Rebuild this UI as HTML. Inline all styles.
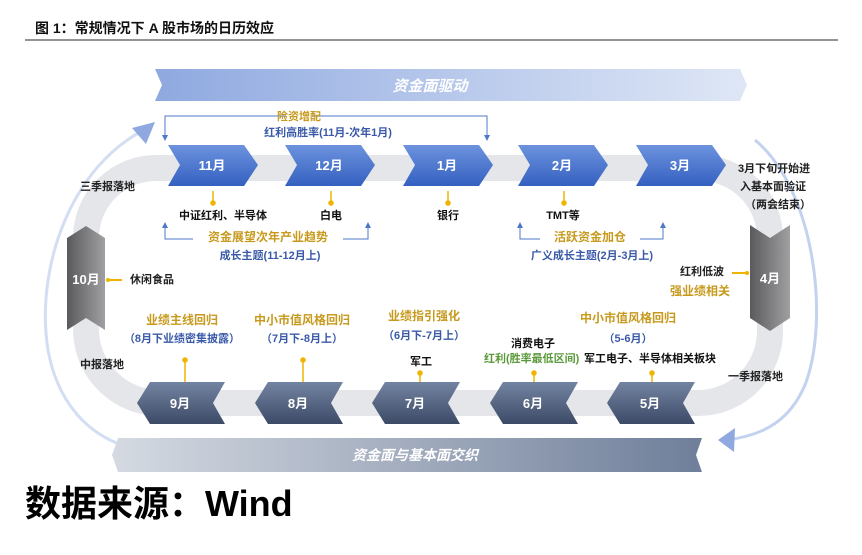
<!DOCTYPE html>
<html><head><meta charset="utf-8">
<style>
html,body{margin:0;padding:0;background:#fff;}
body{width:862px;height:550px;overflow:hidden;position:relative;font-family:"Liberation Sans","Noto Sans CJK SC",sans-serif;}
svg text{font-family:"Liberation Sans","Noto Sans CJK SC",sans-serif;}
</style></head><body>
<svg width="862" height="550" viewBox="0 0 862 550" xmlns="http://www.w3.org/2000/svg">
<defs>
<linearGradient id="top" x1="0" x2="1" y1="0" y2="0"><stop offset="0" stop-color="#8fa9e0"/><stop offset="1" stop-color="#dfe7f6"/></linearGradient>
<linearGradient id="bot" x1="0" x2="1" y1="0" y2="0"><stop offset="0" stop-color="#d5dae2"/><stop offset="1" stop-color="#6f7f9a"/></linearGradient>
<linearGradient id="blu" x1="0" x2="0" y1="0" y2="1"><stop offset="0" stop-color="#6d93de"/><stop offset="1" stop-color="#3460c0"/></linearGradient>
<linearGradient id="sl" x1="0" x2="0" y1="0" y2="1"><stop offset="0" stop-color="#7384a2"/><stop offset="1" stop-color="#3c4a66"/></linearGradient>
<linearGradient id="gr" x1="0" x2="1" y1="0" y2="0"><stop offset="0" stop-color="#5a5a5c"/><stop offset="1" stop-color="#a09fa2"/></linearGradient>
</defs>
<text x="35" y="33" font-size="14" font-weight="bold" fill="#111">图 1：常规情况下 A 股市场的日历效应</text>
<line x1="25" y1="40" x2="838" y2="40" stroke="#555" stroke-width="1.2"/>

<path d="M148 128 C70 165,35 270,48 350 C58 405,90 435,125 446" fill="none" stroke="#d3def3" stroke-width="3"/>
<polygon points="155,122 132,128 146,144" fill="#8fa9e0"/>
<path d="M755 140 C815 190,830 320,805 385 C790 420,765 435,727 440" fill="none" stroke="#c3d2ef" stroke-width="3"/>
<polygon points="718,440 735,428 734,452" fill="#8fa9e0"/>

<path d="M180 168 H700 A70 70 0 0 1 770 238 V330 A72 72 0 0 1 698 403 H160 A74 74 0 0 1 86 329 V238 A70 70 0 0 1 156 168 Z" fill="none" stroke="#e4e6ea" stroke-width="26"/>

<polygon points="155,69 740,69 747,85 740,101 155,101 162,85" fill="url(#top)"/>
<text x="430" y="91" font-size="15" font-style="italic" font-weight="bold" fill="#fff" text-anchor="middle">资金面驱动</text>

<path d="M165 137 V116 H286 M312 116 H487 V137" fill="none" stroke="#4f78c8" stroke-width="1"/>
<polygon points="162,135 168,135 165,141" fill="#4f78c8"/><polygon points="484,135 490,135 487,141" fill="#4f78c8"/>
<text x="299" y="120" font-size="11" font-weight="bold" fill="#c79a1e" text-anchor="middle">险资增配</text>
<text x="328" y="136" font-size="11" font-weight="bold" fill="#3a5aa8" text-anchor="middle">红利高胜率(11月-次年1月)</text>

<g fill="url(#blu)">
<polygon points="168,145 244,145 258,165 244,186 168,186 180,165"/>
<polygon points="285,145 361,145 375,165 361,186 285,186 297,165"/>
<polygon points="403,145 479,145 493,165 479,186 403,186 415,165"/>
<polygon points="518,145 594,145 608,165 594,186 518,186 530,165"/>
<polygon points="636,145 712,145 726,165 712,186 636,186 648,165"/>
</g>
<g font-size="13" font-weight="bold" fill="#fff" text-anchor="middle">
<text x="212" y="170">11月</text><text x="329" y="170">12月</text><text x="447" y="170">1月</text><text x="562" y="170">2月</text><text x="680" y="170">3月</text>
</g>
<g stroke="#f0b400" stroke-width="1.5" fill="#f0b400">
<line x1="213" y1="191" x2="213" y2="201"/><circle cx="213" cy="203" r="2"/>
<line x1="331" y1="191" x2="331" y2="201"/><circle cx="331" cy="203" r="2"/>
<line x1="448" y1="191" x2="448" y2="201"/><circle cx="448" cy="203" r="2"/>
<line x1="564" y1="191" x2="564" y2="201"/><circle cx="564" cy="203" r="2"/>
</g>
<g font-size="11" font-weight="bold" fill="#111" text-anchor="middle">
<text x="223" y="219">中证红利、半导体</text><text x="331" y="219">白电</text><text x="448" y="219">银行</text><text x="563" y="219">TMT等</text>
</g>
<path d="M165 226 V239 H193 M343 239 H368 V226" fill="none" stroke="#4f78c8" stroke-width="1"/>
<polygon points="162,228 168,228 165,222" fill="#4f78c8"/><polygon points="365,228 371,228 368,222" fill="#4f78c8"/>
<text x="268" y="241" font-size="12" font-weight="bold" fill="#c79a1e" text-anchor="middle">资金展望次年产业趋势</text>
<text x="270" y="259" font-size="11" font-weight="bold" fill="#3a5aa8" text-anchor="middle">成长主题(11-12月上)</text>
<path d="M520 226 V239 H540 M640 239 H663 V226" fill="none" stroke="#4f78c8" stroke-width="1"/>
<polygon points="517,228 523,228 520,222" fill="#4f78c8"/><polygon points="660,228 666,228 663,222" fill="#4f78c8"/>
<text x="590" y="241" font-size="12" font-weight="bold" fill="#c79a1e" text-anchor="middle">活跃资金加仓</text>
<text x="592" y="259" font-size="11" font-weight="bold" fill="#3a5aa8" text-anchor="middle">广义成长主题(2月-3月上)</text>

<g font-size="11" font-weight="bold" fill="#222">
<text x="738" y="172">3月下旬开始进</text><text x="740" y="190">入基本面验证</text><text x="745" y="208">（两会结束）</text>
<text x="80" y="190">三季报落地</text>
<text x="130" y="283">休闲食品</text>
<text x="680" y="275">红利低波</text>
<text x="80" y="368">中报落地</text>
<text x="728" y="380">一季报落地</text>
</g>
<text x="670" y="295" font-size="12" font-weight="bold" fill="#c79a1e">强业绩相关</text>

<polygon points="67,238 86,226 105,238 105,330 86,318 67,330" fill="url(#gr)"/>
<text x="86" y="284" font-size="13" font-weight="bold" fill="#fff" text-anchor="middle">10月</text>
<line x1="108" y1="280" x2="122" y2="280" stroke="#f0b400" stroke-width="2"/><circle cx="108" cy="280" r="2" fill="#f0b400"/>
<polygon points="750,225 770,238 790,225 790,318 770,331 750,318" fill="url(#gr)"/>
<text x="770" y="283" font-size="13" font-weight="bold" fill="#fff" text-anchor="middle">4月</text>
<line x1="732" y1="273" x2="747" y2="273" stroke="#f0b400" stroke-width="2"/><circle cx="747" cy="273" r="2" fill="#f0b400"/>

<g font-size="12" font-weight="bold" fill="#c79a1e" text-anchor="middle">
<text x="182" y="324">业绩主线回归</text><text x="302" y="324">中小市值风格回归</text><text x="424" y="320">业绩指引强化</text><text x="628" y="322">中小市值风格回归</text>
</g>
<g font-size="11" font-weight="bold" fill="#3a5aa8" text-anchor="middle">
<text x="182" y="342">（8月下业绩密集披露）</text><text x="302" y="342">（7月下-8月上）</text><text x="424" y="339">（6月下-7月上）</text><text x="628" y="342">（5-6月）</text>
</g>
<text x="533" y="347" font-size="11" font-weight="bold" fill="#111" text-anchor="middle">消费电子</text>
<text x="421" y="365" font-size="11" font-weight="bold" fill="#111" text-anchor="middle">军工</text>
<text x="484" y="362" font-size="11" font-weight="bold" fill="#5a9a3a">红利(胜率最低区间)</text>
<text x="584" y="362" font-size="11" font-weight="bold" fill="#111">军工电子、半导体相关板块</text>

<g stroke="#f0b400" stroke-width="1.5" fill="#f0b400">
<line x1="185" y1="360" x2="185" y2="382"/><circle cx="185" cy="360" r="2"/>
<line x1="303" y1="360" x2="303" y2="382"/><circle cx="303" cy="360" r="2"/>
<line x1="420" y1="373" x2="420" y2="382"/><circle cx="420" cy="373" r="2"/>
<line x1="534" y1="373" x2="534" y2="382"/><circle cx="534" cy="373" r="2"/>
<line x1="652" y1="373" x2="652" y2="382"/><circle cx="652" cy="373" r="2"/>
</g>

<g fill="url(#sl)">
<polygon points="150,382 225,382 213,403 225,424 150,424 137,403"/>
<polygon points="268,382 343,382 331,403 343,424 268,424 255,403"/>
<polygon points="385,382 460,382 448,403 460,424 385,424 372,403"/>
<polygon points="503,382 578,382 566,403 578,424 503,424 490,403"/>
<polygon points="620,382 695,382 683,403 695,424 620,424 607,403"/>
</g>
<g font-size="13" font-weight="bold" fill="#fff" text-anchor="middle">
<text x="180" y="408">9月</text><text x="298" y="408">8月</text><text x="415" y="408">7月</text><text x="533" y="408">6月</text><text x="650" y="408">5月</text>
</g>

<polygon points="118,438 702,438 696,455 702,472 118,472 112,455" fill="url(#bot)"/>
<text x="415" y="460" font-size="14" font-style="italic" font-weight="bold" fill="#fff" text-anchor="middle">资金面与基本面交织</text>

<text x="25" y="516" font-size="36" font-weight="bold" fill="#000">数据来源：Wind</text>
</svg>
</body></html>
